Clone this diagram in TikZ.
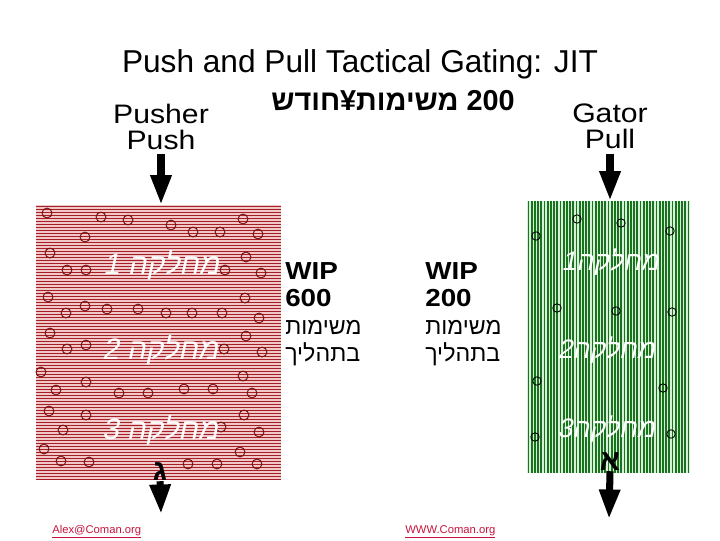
\documentclass[tikz,border=0pt]{standalone}
\usepackage{fontspec}
\setmainfont{Liberation Sans}
\newfontfamily\widefont[FakeStretch=1.13]{Liberation Sans}
\newfontfamily\hebfont[Script=Hebrew]{Liberation Sans}
\newfontfamily\hebslant[Script=Hebrew,FakeSlant=0.22]{Liberation Sans}
\TeXXeTstate=1
\usetikzlibrary{positioning,fit,arrows.meta}
\definecolor{stripered}{RGB}{165,30,40}
\definecolor{pinkbg}{RGB}{240,200,200}
\definecolor{stripegreen}{RGB}{25,115,30}
\definecolor{greenbg}{RGB}{215,238,215}
\definecolor{dotred}{RGB}{120,15,15}
\definecolor{linkred}{RGB}{200,20,60}

\begin{document}
\begin{tikzpicture}[x=0.025cm,y=-0.025cm,
    every node/.style={inner sep=0pt},
    headline/.style={font=\fontsize{22.5}{24}\selectfont},
    sidelabel/.style={align=center,anchor=north,font=\widefont\fontsize{19}{18.5}\selectfont},
    wip/.style={align=left,anchor=north west,font=\fontsize{16.5}{19.5}\selectfont},
    wipbold/.style={font=\widefont\bfseries\fontsize{17.5}{19.5}\selectfont},
    dept/.style={text=white,font=\hebslant\fontsize{21}{22}\selectfont},
    gdept/.style={text=white,font=\hebslant\fontsize{19}{20}\selectfont},
    letter/.style={font=\hebfont\bfseries\fontsize{21}{21}\selectfont},
    box/.style={inner sep=0pt,draw=none},
    bigarrow/.style={draw,line width=5pt,-{Triangle[width=14pt,length=21pt]}},
    footer/.style={anchor=base west,text=linkred,font=\fontsize{8}{9}\selectfont},
  ]
  \useasboundingbox (0,0) rectangle (720,540);

  % titles
  \node[headline,anchor=base] (title) at (360,72) {Push and Pull Tactical Gating: JIT};
  \node[anchor=base,font=\hebfont\bfseries\fontsize{20.5}{21}\selectfont] (rate) at (393,110)
    {\beginR\beginL 200\endL{} משימות¥חודש\endR};
  \node[sidelabel] (pusher) at (161,104) {Pusher\\Push};
  \node[sidelabel] (gator) at (610,104) {Gator\\Pull};

  % the two boxes
  \node[box,fit={(36,205) (281,480)}] (pushbox) {};
  \node[box,fit={(527,201) (690,473)}] (pullbox) {};
  \begin{scope}
    \clip (pushbox.south west) rectangle (pushbox.north east);
    \fill[pinkbg] (pushbox.south west) rectangle (pushbox.north east);
    \foreach \y in {206.5,209.5,...,480}
      \draw[stripered,line width=1pt] (36,\y) -- (281,\y);
  \end{scope}
  \begin{scope}
    \clip (pullbox.south west) rectangle (pullbox.north east);
    \fill[greenbg] (pullbox.south west) rectangle (pullbox.north east);
    \foreach \x in {528.5,531.7,...,690}
      \draw[stripegreen,line width=1.3pt] (\x,201) -- (\x,473);
  \end{scope}

  % tasks
  \foreach \p in {(47,213),(101,217),(128,220),(171,225),(193,232),(220,232),(243,219),
      (258,234),(85,237),(50,253),(67,270),(86,270),(225,270),(246,257),(261,273),
      (48,297),(66,313),(85,306),(107,309),(138,309),(166,313),(192,313),(222,313),
      (245,298),(259,318),(50,333),(67,349),(86,345),(224,349),(246,336),(262,352),
      (41,372),(86,382),(56,390),(119,393),(148,393),(184,389),(213,389),(243,376),
      (252,393),(49,411),(86,415),(63,430),(221,427),(244,415),(259,432),(44,449),
      (61,461),(89,462),(240,452),(188,464),(217,464),(257,464)}
    \draw[dotred,line width=0.7pt] \p circle[radius=3.5pt];
  \foreach \p in {(577,219),(621,223),(536,236),(670,231),(557,308),(616,311),
      (672,312),(537,381),(663,388),(535,437),(671,434)}
    \draw[black,line width=0.6pt] \p circle[radius=3pt];

  % departments
  \node[dept] (d1) at (161,265) {\beginR מחלקה \beginL 1\endL\endR};
  \node[dept] (d2) at (160,350) {\beginR מחלקה \beginL 2\endL\endR};
  \node[dept] (d3) at (160,430) {\beginR מחלקה \beginL 3\endL\endR};
  \node[gdept] (g1) at (610,262) {\beginR מחלקה\beginL 1\endL\endR};
  \node[gdept] (g2) at (606,350) {\beginR מחלקה\beginL 2\endL\endR};
  \node[gdept] (g3) at (606,429) {\beginR מחלקה\beginL 3\endL\endR};

  % work in progress
  \node[wip] (wipL) at (285,262)
    {{\widefont\bfseries\fontsize{17.5}{19.5}\selectfont WIP}\\{\widefont\bfseries\fontsize{17.5}{19.5}\selectfont 600}\\
     {\hebfont\beginR משימות\endR}\\{\hebfont\beginR בתהליך\endR}};
  \node[wip] (wipR) at (425,262)
    {{\widefont\bfseries\fontsize{17.5}{19.5}\selectfont WIP}\\{\widefont\bfseries\fontsize{17.5}{19.5}\selectfont 200}\\
     {\hebfont\beginR משימות\endR}\\{\hebfont\beginR בתהליך\endR}};

  % outputs
  \node[letter] (gimel) at (160,472) {\beginR ג\endR};
  \node[letter] (alef) at (610,462) {\beginR א\endR};
  \coordinate (outL) at (161,514);
  \coordinate (outR) at (609,519);

  \draw[bigarrow] ([yshift=-3pt]pusher.south) -- (pusher.south |- pushbox.north);
  \draw[bigarrow] ([yshift=-3pt]gator.south) -- (gator.south |- pullbox.north);
  \draw[bigarrow] (gimel.south) -- (outL);
  \draw[bigarrow] (alef.south) -- (outR);

  % footer
  \node[footer] (mail) at (52,533) {\underline{Alex@Coman.org}};
  \node[footer] (web) at (405,533) {\underline{WWW.Coman.org}};
\end{tikzpicture}
\end{document}
